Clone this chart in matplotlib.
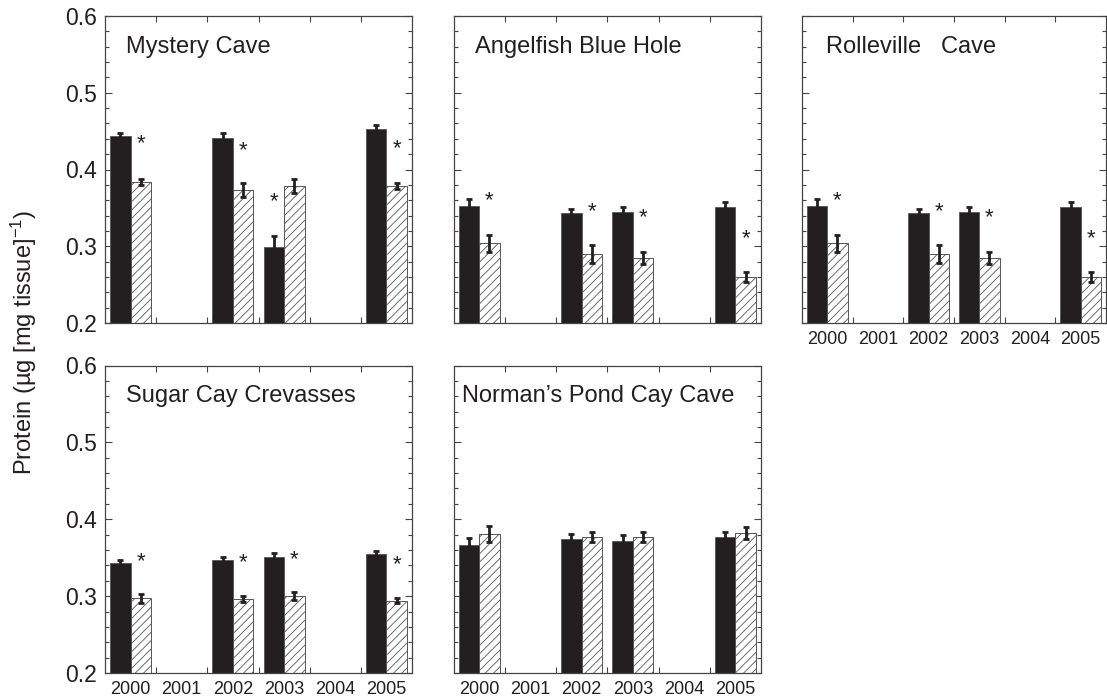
import numpy as np
import matplotlib
matplotlib.use("Agg")
import matplotlib.pyplot as plt
from matplotlib.ticker import MultipleLocator, FixedLocator

plt.rcParams['font.family'] = ['Liberation Sans', 'DejaVu Sans']
plt.rcParams['mathtext.fontset'] = 'custom'
plt.rcParams['mathtext.rm'] = 'Liberation Sans'
plt.rcParams['mathtext.it'] = 'Liberation Sans:italic'
plt.rcParams['hatch.linewidth'] = 0.6
plt.rcParams['hatch.color'] = '#555555'

nan = np.nan
years = ['2000', '2001', '2002', '2003', '2004', '2005']

sites = ['Mystery Cave', 'Angelfish Blue Hole', 'Rolleville   Cave',
         'Sugar Cay Crevasses', "Norman\u2019s Pond Cay Cave"]

mystery_black = [0.444, nan, 0.441, 0.299, nan, 0.453]
mystery_black_err = [0.004, nan, 0.006, 0.015, nan, 0.005]
mystery_hatch = [0.384, nan, 0.373, 0.379, nan, 0.379]
mystery_hatch_err = [0.004, nan, 0.009, 0.009, nan, 0.004]

angelfish_black = [0.353, nan, 0.343, 0.344, nan, 0.351]
angelfish_black_err = [0.008, nan, 0.006, 0.007, nan, 0.007]
angelfish_hatch = [0.304, nan, 0.290, 0.285, nan, 0.260]
angelfish_hatch_err = [0.011, nan, 0.012, 0.008, nan, 0.006]

rolleville_black = [0.353, nan, 0.343, 0.344, nan, 0.351]
rolleville_black_err = [0.008, nan, 0.006, 0.007, nan, 0.007]
rolleville_hatch = [0.304, nan, 0.290, 0.285, nan, 0.260]
rolleville_hatch_err = [0.011, nan, 0.012, 0.008, nan, 0.006]

sugar_black = [0.343, nan, 0.347, 0.351, nan, 0.355]
sugar_black_err = [0.004, nan, 0.004, 0.005, nan, 0.004]
sugar_hatch = [0.297, nan, 0.296, 0.300, nan, 0.294]
sugar_hatch_err = [0.006, nan, 0.004, 0.005, nan, 0.003]

norman_black = [0.367, nan, 0.374, 0.372, nan, 0.377]
norman_black_err = [0.009, nan, 0.007, 0.007, nan, 0.006]
norman_hatch = [0.381, nan, 0.377, 0.377, nan, 0.382]
norman_hatch_err = [0.010, nan, 0.007, 0.006, nan, 0.008]

# significance stars: (year index, bar: 'b' black / 'h' hatched, star y)
mystery_stars = [(0, 'h', 0.433), (2, 'h', 0.425), (3, 'b', 0.358), (5, 'h', 0.427)]
angelfish_stars = [(0, 'h', 0.360), (2, 'h', 0.345), (3, 'h', 0.337), (5, 'h', 0.310)]
rolleville_stars = [(0, 'h', 0.360), (2, 'h', 0.345), (3, 'h', 0.337), (5, 'h', 0.310)]
sugar_stars = [(0, 'h', 0.345), (2, 'h', 0.343), (3, 'h', 0.348), (5, 'h', 0.341)]
norman_stars = []

panels = [
    (mystery_black, mystery_black_err, mystery_hatch, mystery_hatch_err, mystery_stars),
    (angelfish_black, angelfish_black_err, angelfish_hatch, angelfish_hatch_err, angelfish_stars),
    (rolleville_black, rolleville_black_err, rolleville_hatch, rolleville_hatch_err, rolleville_stars),
    (sugar_black, sugar_black_err, sugar_hatch, sugar_hatch_err, sugar_stars),
    (norman_black, norman_black_err, norman_hatch, norman_hatch_err, norman_stars),
]

W, H = 1107, 700
fig = plt.figure(figsize=(W / 100, H / 100), dpi=100)

# axes rects in pixels: left, top, width, height
rects = [(105, 16, 307, 307), (453.5, 16, 307.5, 307), (802, 16, 304, 307),
         (105, 365.5, 307, 307.5), (453.5, 365.5, 307.5, 307.5)]
title_x = [0.067, 0.07, 0.079, 0.067, 0.027]
show_ylab = [True, False, False, True, False]
show_xlab = [False, False, True, True, True]

spine_col = '#444444'
bw = 0.4
x = np.arange(len(years))

for i, (l, t, w, h) in enumerate(rects):
    ax = fig.add_axes([l / W, (H - t - h) / H, w / W, h / H])
    blk, blk_e, hat, hat_e, stars = panels[i]
    ax.bar(x - bw / 2, blk, width=bw, color='#231f20', edgecolor='#555555',
           linewidth=0.6, zorder=2)
    ax.bar(x + bw / 2, hat, width=bw, color='white', edgecolor='#555555',
           hatch='////', linewidth=0.7, zorder=2)
    ax.errorbar(x - bw / 2, blk, yerr=blk_e, fmt='none', ecolor='#231f20',
                elinewidth=2, capsize=2.4, capthick=2, zorder=3)
    ax.errorbar(x + bw / 2, hat, yerr=hat_e, fmt='none', ecolor='#231f20',
                elinewidth=2, capsize=2.4, capthick=2, zorder=3)
    for (yi, which, sy) in stars:
        sx = yi - bw / 2 if which == 'b' else yi + bw / 2
        ax.text(sx, sy, '*', ha='center', va='center', fontsize=16,
                color='#231f20', zorder=4)
    ax.text(title_x[i], 0.90, sites[i], transform=ax.transAxes, fontsize=17,
            ha='left', va='center', color='#231f20')

    ax.set_xlim(-0.5, 5.5)
    ax.set_ylim(0.2, 0.6)
    ax.xaxis.set_major_locator(FixedLocator(x))
    ax.xaxis.set_minor_locator(FixedLocator(np.arange(0.5, 5, 1.0)))
    ax.yaxis.set_major_locator(MultipleLocator(0.1))
    ax.yaxis.set_minor_locator(MultipleLocator(0.02))
    ax.tick_params(axis='x', which='major', length=0, pad=6, labelsize=13,
                   labelbottom=show_xlab[i], colors='#231f20')
    ax.tick_params(axis='x', which='minor', direction='in', length=4,
                   top=True, bottom=True, color=spine_col, width=0.8)
    ax.tick_params(axis='y', which='both', direction='in', left=True,
                   right=True, color=spine_col, width=0.8)
    ax.tick_params(axis='y', which='major', length=5, labelsize=16.5,
                   labelleft=show_ylab[i], pad=6, labelcolor='#231f20')
    ax.tick_params(axis='y', which='minor', length=3)
    if show_xlab[i]:
        ax.set_xticklabels(years)
    if show_ylab[i]:
        ax.set_yticks([0.2, 0.3, 0.4, 0.5, 0.6])
        ax.set_yticklabels(['0.2', '0.3', '0.4', '0.5', '0.6'])
    for s in ax.spines.values():
        s.set_color(spine_col)
        s.set_linewidth(0.9)

fig.text(24 / W, (H - 342) / H, r'Protein (µg [mg tissue]$^{-1}$)', rotation=90,
         ha='center', va='center', fontsize=17, color='#231f20')

fig.savefig('out.png', dpi=100)
